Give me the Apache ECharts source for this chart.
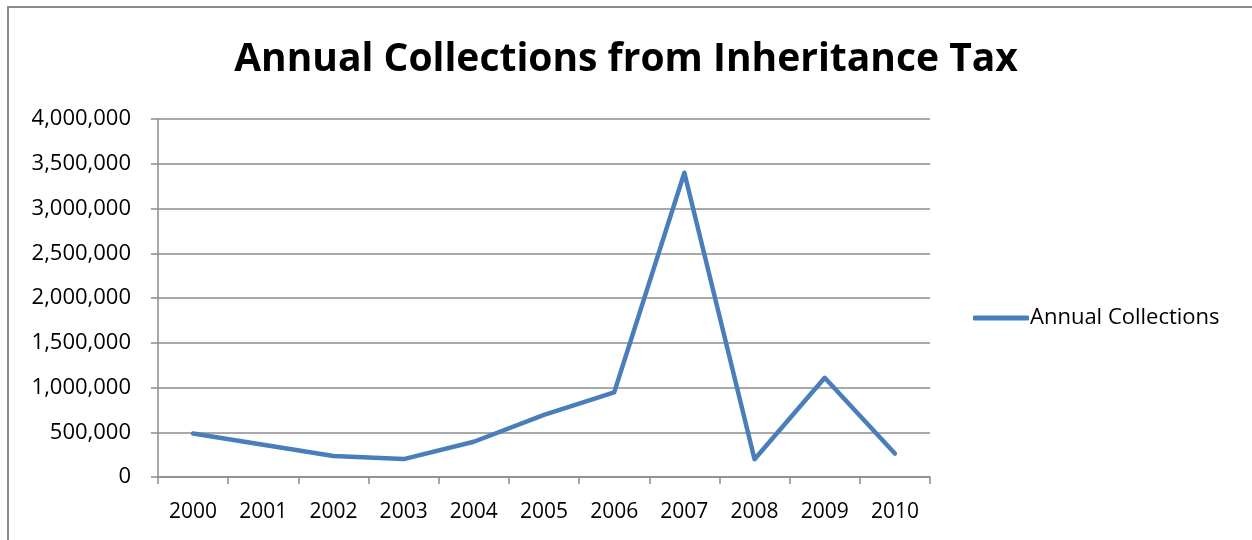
<!DOCTYPE html>
<html>
<head>
<meta charset="utf-8">
<script src="https://cdn.jsdelivr.net/npm/echarts@6/dist/echarts.min.js"></script>
<style>
html,body{margin:0;padding:0;background:#fff;overflow:hidden;}
#frame{position:absolute;left:7px;top:6px;width:1300px;height:600px;border-left:2px solid #8c8c8c;border-top:2px solid #8c8c8c;}
#chart{position:absolute;left:0;top:0;width:1252px;height:540px;}
</style>
</head>
<body>
<div id="frame"></div>
<div id="chart"></div>
<script>
const titleText = 'Annual Collections from Inheritance Tax';
const seriesName = 'Annual Collections';
const years = ['2000','2001','2002','2003','2004','2005','2006','2007','2008','2009','2010'];
const collections = [485000, 360000, 235000, 200000, 394000, 693000, 945000, 3400000, 198000, 1108000, 262000];

const chart = echarts.init(document.getElementById('chart'), null, {renderer:'canvas'});
const font = '"Open Sans", "DejaVu Sans", sans-serif';
chart.setOption({
  backgroundColor: 'transparent',
  animation: false,
  title: {
    text: titleText,
    left: 'center',
    top: 35,
    textStyle: {fontFamily: font, fontWeight: 'bold', fontSize: 39, color: '#000'}
  },
  legend: {
    data: [seriesName],
    left: 968,
    top: 302,
    icon: 'roundRect',
    itemWidth: 56,
    itemHeight: 5,
    itemGap: 4,
    textStyle: {fontFamily: font, fontSize: 22, color: '#000', padding: [0,0,0,-4]}
  },
  grid: {left: 158, right: 322, top: 119, bottom: 63, containLabel: false},
  xAxis: {
    type: 'category',
    data: years,
    boundaryGap: true,
    axisLine: {lineStyle: {color: '#8c8c8c', width: 1.5}},
    axisTick: {show: true, length: 7, lineStyle: {color: '#8c8c8c', width: 1.5}, alignWithLabel: false},
    axisLabel: {fontFamily: font, fontSize: 21, color: '#000', margin: 25}
  },
  yAxis: {
    type: 'value',
    min: 0,
    max: 4000000,
    interval: 500000,
    axisLine: {show: true, lineStyle: {color: '#8c8c8c', width: 1.5}},
    axisTick: {show: true, length: 7, lineStyle: {color: '#8c8c8c', width: 1.5}},
    splitLine: {lineStyle: {color: '#8c8c8c', width: 1.5}},
    axisLabel: {
      fontFamily: font, fontSize: 22, color: '#000', margin: 27,
      formatter: v => v.toLocaleString('en-US')
    }
  },
  series: [{
    name: seriesName,
    type: 'line',
    data: collections,
    showSymbol: false,
    symbol: 'none',
    color: '#4a7ebb',
    lineStyle: {color: '#4a7ebb', width: 4.5, cap: 'round', join: 'round'}
  }]
});
</script>
</body>
</html>
